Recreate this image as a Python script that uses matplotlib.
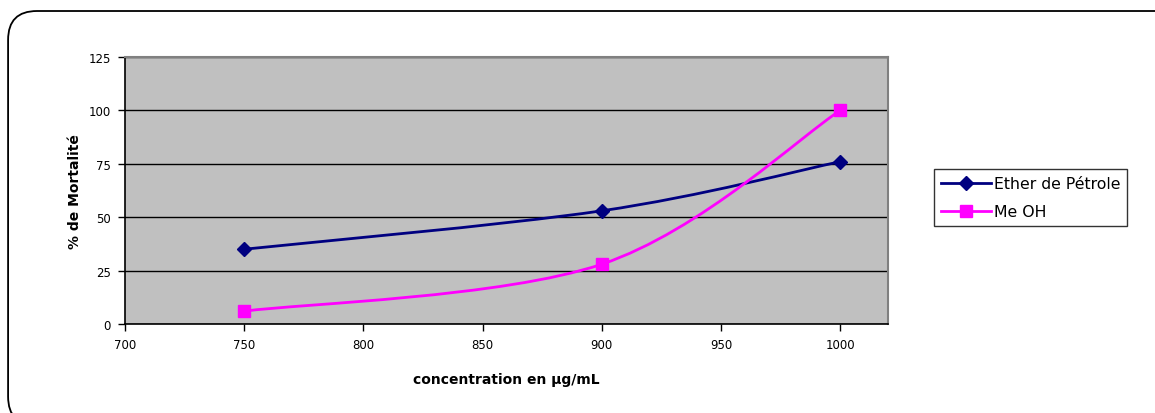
import numpy as np
import matplotlib.pyplot as plt
from matplotlib.path import Path
from matplotlib.patches import PathPatch, FancyBboxPatch
from matplotlib.lines import Line2D

plt.rcParams['font.family'] = ['DejaVu Sans']

concentration = [750, 900, 1000]
ether = [35, 53, 76]
meoh = [6, 28, 100]
series_names = ["Ether de Pétrole", "Me OH"]


def smooth_path(xs, ys):
    # Excel-like smoothed line: cubic Bezier segments through the points
    pts = np.column_stack([xs, ys]).astype(float)
    ext = np.vstack([pts[0], pts, pts[-1]])
    verts = [pts[0]]
    codes = [Path.MOVETO]
    for i in range(len(pts) - 1):
        p_prev, p0, p1, p_next = ext[i], ext[i + 1], ext[i + 2], ext[i + 3]
        c1 = p0 + (p1 - p_prev) / 6
        c2 = p1 - (p_next - p0) / 6
        verts += [c1, c2, p1]
        codes += [Path.CURVE4] * 3
    return Path(verts, codes)


fig = plt.figure(figsize=(11.55, 4.14), dpi=100)

# rounded chart frame (partly cut off at right and bottom)
frame = FancyBboxPatch((0.007, -0.03), 1.018, 1.001, transform=fig.transFigure,
                       boxstyle="round,pad=0,rounding_size=0.025",
                       mutation_aspect=1155 / 414,
                       fill=False, edgecolor='black', linewidth=1.3, zorder=0)
fig.patches.append(frame)

ax = fig.add_axes([0.1082, 0.2150, 0.6606, 0.6449])
ax.set_facecolor('#C0C0C0')
ax.set_xlim(700, 1020)
ax.set_ylim(0, 125)
ax.set_xticks(np.arange(700, 1001, 50))
ax.set_yticks(np.arange(0, 126, 25))
ax.yaxis.grid(True, color='black', linewidth=1)
ax.set_axisbelow(True)

for sp in ['top', 'right']:
    ax.spines[sp].set_color('#808080')
    ax.spines[sp].set_linewidth(1.5)
for sp in ['left', 'bottom']:
    ax.spines[sp].set_color('black')
    ax.spines[sp].set_linewidth(1.2)

ax.tick_params(direction='out', length=5, width=1, labelsize=8.5, pad=5)

for ys, color, marker, ms in [(ether, '#000080', 'D', 7),
                             (meoh, '#FF00FF', 's', 9)]:
    patch = PathPatch(smooth_path(concentration, ys), facecolor='none',
                      edgecolor=color, linewidth=2, zorder=3)
    ax.add_patch(patch)
    ax.plot(concentration, ys, linestyle='none', marker=marker, markersize=ms,
            color=color, zorder=4, clip_on=False)

ax.set_xlabel("concentration en µg/mL", fontsize=10, fontweight='bold', labelpad=15)
ax.set_ylabel("% de Mortalité", fontsize=10, fontweight='bold', labelpad=5)

handles = [Line2D([], [], color='#000080', lw=2, marker='D', markersize=7),
           Line2D([], [], color='#FF00FF', lw=2, marker='s', markersize=9)]
leg = fig.legend(handles, series_names, loc='center left',
                 bbox_to_anchor=(0.8087, 0.52), bbox_transform=fig.transFigure,
                 fontsize=11.3, frameon=True, fancybox=False, edgecolor='black',
                 handlelength=3.2, handletextpad=0.15, borderpad=0.45,
                 labelspacing=0.8, borderaxespad=0)
leg.get_frame().set_linewidth(1)

fig.savefig('out.png', dpi=100, facecolor='white')
